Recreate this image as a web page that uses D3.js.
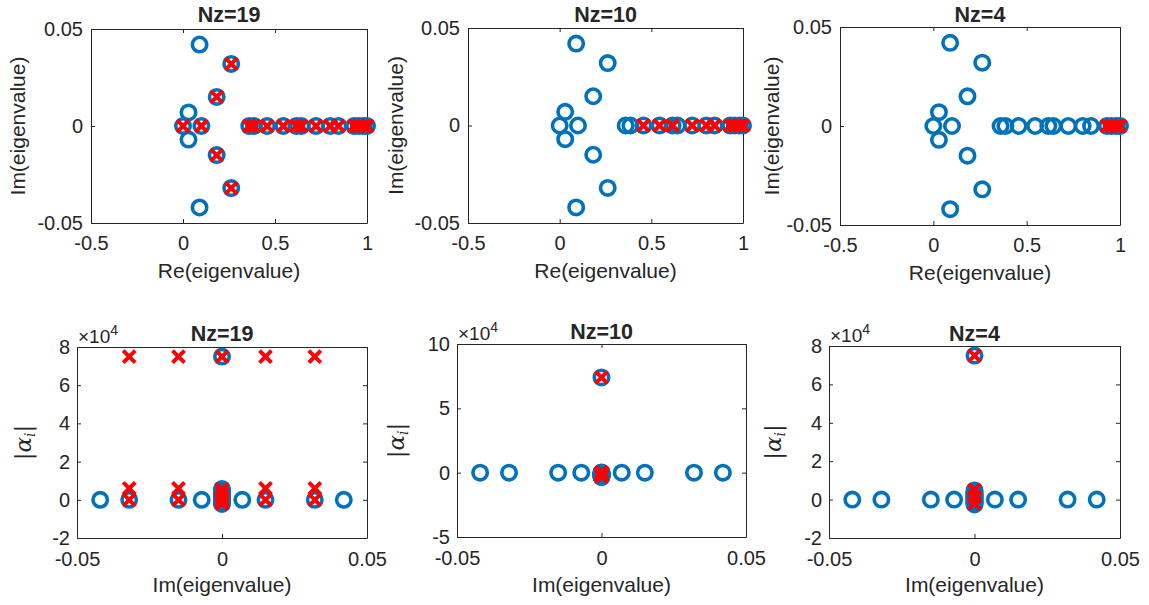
<!DOCTYPE html>
<html>
<head>
<meta charset="utf-8">
<script src="https://cdn.jsdelivr.net/npm/d3@7"></script>
<style>
  body { margin: 0; background: #fff; }
  svg { display: block; }
  text { font-family: "Liberation Sans", Arial, Helvetica, sans-serif; fill: #262626; }
</style>
</head>
<body>
<svg id="fig" width="1149" height="605"></svg>
<script>
// ---- Eigenvalues: complex pairs first, then the real ones ----
const eigRe = [0.09, 0.09, 0.262, 0.262, 0.183, 0.183, 0.03, 0.03,
               0, 0.1, 0.36, 0.386, 0.457, 0.545, 0.616, 0.643, 0.723, 0.80, 0.845, 0.93, 0.955, 0.98, 1.0];
const eigIm = [0.042, -0.042, 0.032, -0.032, 0.015, -0.015, 0.007, -0.007,
               0, 0, 0, 0, 0, 0, 0, 0, 0, 0, 0, 0, 0, 0, 0];

// |alpha_i| per eigenvalue (units of 1e4), one list per Nz
const alpha19 = [0, 0, 0, 0, 0, 0, 0, 0,
                 7.5, 0.57, 0.45, 0.35, 0.25, 0.15, 0.05, 0, -0.05, -0.1, -0.15, -0.22, 0.3, 0.1, 0.2];
const alpha10 = [0, 0, 0, 0, 0, 0, 0, 0,
                 7.4, 0.02, -0.02, -0.06, -0.1, -0.14, -0.18, -0.22, -0.26, -0.3, -0.34, 0, -0.1, -0.2, -0.3];
const alpha4  = [0, 0, 0, 0, 0, 0, 0, 0,
                 7.5, 0.48, 0.38, 0.28, 0.18, 0.08, 0, -0.05, -0.1, -0.15, -0.2, -0.25, 0.1, 0.2, 0.3];

// Retained poles (red crosses) in the complex plane
const keepRe19 = [0, 0.1, 0.183, 0.183, 0.262, 0.262,
                  0.36, 0.386, 0.457, 0.545, 0.616, 0.643, 0.723, 0.80, 0.845, 0.93, 0.955, 0.98, 1.0];
const keepIm19 = [0, 0, 0.015, -0.015, 0.032, -0.032,
                  0, 0, 0, 0, 0, 0, 0, 0, 0, 0, 0, 0, 0];
const keepRe10 = [0.457, 0.545, 0.616, 0.723, 0.80, 0.845, 0.93, 0.955, 0.98, 1.0];
const keepIm10 = [0, 0, 0, 0, 0, 0, 0, 0, 0, 0];
const keepRe4  = [0.93, 0.955, 0.98, 1.0];
const keepIm4  = [0, 0, 0, 0];

// Retained poles against |alpha_i| (units of 1e4)
const keepAIm19 = [-0.032, -0.015, 0, 0.015, 0.032,
                   -0.032, -0.015, 0.015, 0.032,
                   -0.032, -0.015, 0.015, 0.032,
                   0, 0, 0, 0, 0, 0];
const keepA19   = [7.5, 7.5, 7.5, 7.5, 7.5,
                   0.6, 0.6, 0.6, 0.6,
                   0, 0, 0, 0,
                   0.55, 0.35, 0.15, 0, -0.1, -0.2];
const keepAIm10 = [0, 0, 0, 0, 0, 0, 0, 0, 0, 0];
const keepA10   = [7.4, 0.03, 0, -0.03, -0.07, -0.1, -0.15, -0.2, -0.25, -0.3];
const keepAIm4  = [0, 0, 0, 0];
const keepA4    = [7.5, 0.5, 0.15, -0.2];

// Axis ranges and ticks
const reDomain = [-0.5, 1],   reTicks = [-0.5, 0, 0.5, 1];
const imDomain = [-0.05, 0.05], imTicks = [-0.05, 0, 0.05];
const aDomain8 = [-2, 8],    aTicks8 = [-2, 0, 2, 4, 6, 8];
const aDomain10 = [-5, 10],  aTicks10 = [-5, 0, 5, 10];

const titles = ["Nz=19", "Nz=10", "Nz=4"];

const BLUE = "#0072BD", RED = "#FF0000", INK = "#262626";
const svg = d3.select("#fig");

const fmt = d => String(d);

function panel(cfg) {
  const { box, xDomain, xTicks, yDomain, yTicks, circles, crosses, title, xLabel, yLabel, exponent, lay } = cfg;
  const x = d3.scaleLinear().domain(xDomain).range([box.L, box.R]);
  const y = d3.scaleLinear().domain(yDomain).range([box.B, box.T]);
  const g = svg.append("g");

  // axes with inward ticks on all four sides
  const tl = 4;
  const ax = [
    g.append("g").attr("transform", `translate(0,${box.B})`)
      .call(d3.axisBottom(x).tickValues(xTicks).tickFormat(fmt).tickSizeInner(-tl).tickSizeOuter(0).tickPadding(lay.xPad)),
    g.append("g").attr("transform", `translate(0,${box.T})`)
      .call(d3.axisTop(x).tickValues(xTicks).tickFormat("").tickSizeInner(-tl).tickSizeOuter(0)),
    g.append("g").attr("transform", `translate(${box.L},0)`)
      .call(d3.axisLeft(y).tickValues(yTicks).tickFormat(fmt).tickSizeInner(-tl).tickSizeOuter(0).tickPadding(lay.yPad)),
    g.append("g").attr("transform", `translate(${box.R},0)`)
      .call(d3.axisRight(y).tickValues(yTicks).tickFormat("").tickSizeInner(-tl).tickSizeOuter(0))
  ];
  ax.forEach(a => {
    a.selectAll("path.domain").attr("stroke", INK).attr("stroke-width", 1);
    a.selectAll(".tick line").attr("stroke", INK).attr("stroke-width", 1);
    a.selectAll(".tick text").attr("font-size", 20).attr("fill", INK)
      .style("font-family", '"Liberation Sans", Arial, Helvetica, sans-serif');
  });

  // markers: blue circles for all eigenvalues, red crosses for retained ones
  g.append("g").selectAll("circle").data(d3.range(circles.x.length)).join("circle")
    .attr("cx", i => x(circles.x[i])).attr("cy", i => y(circles.y[i])).attr("r", 7.2)
    .attr("fill", "none").attr("stroke", BLUE).attr("stroke-width", 3.6);
  const s = 6;
  g.append("g").selectAll("path").data(d3.range(crosses.x.length)).join("path")
    .attr("transform", i => `translate(${x(crosses.x[i])},${y(crosses.y[i])})`)
    .attr("d", `M${-s},${-s}L${s},${s}M${-s},${s}L${s},${-s}`)
    .attr("fill", "none").attr("stroke", RED).attr("stroke-width", 4);

  const cx = (box.L + box.R) / 2, cy = (box.T + box.B) / 2;
  g.append("text").attr("x", cx).attr("y", lay.titleY).attr("text-anchor", "middle")
    .attr("font-size", 21.5).attr("font-weight", "bold").attr("fill", "#000").text(title);
  g.append("text").attr("x", cx).attr("y", lay.xLabelY).attr("text-anchor", "middle")
    .attr("font-size", 21).text(xLabel);

  if (yLabel === "alpha") {
    const t = g.append("text").attr("transform", `translate(${lay.yLabelX},${cy}) rotate(-90)`)
      .attr("text-anchor", "middle").attr("font-size", 23)
      .style("font-family", '"DejaVu Serif", "Liberation Serif", serif');
    t.append("tspan").text("|");
    t.append("tspan").attr("font-style", "italic").text("\u03B1");
    t.append("tspan").attr("font-style", "italic").attr("font-size", 14).attr("dy", 4).text("i");
    t.append("tspan").attr("dy", -4).text("|");
  } else {
    g.append("text").attr("transform", `translate(${lay.yLabelX},${cy}) rotate(-90)`)
      .attr("text-anchor", "middle").attr("font-size", 21).text(yLabel);
  }

  if (exponent) {
    const t = g.append("text").attr("x", box.L + 1).attr("y", box.T - 4)
      .attr("font-size", 19).attr("fill", "#404040");
    t.append("tspan").text("\u00D710");
    t.append("tspan").attr("font-size", 14).attr("dy", -8).text("4");
  }
}

// top row: complex plane
const topBoxes = [
  { L: 91, R: 367, T: 29, B: 223 },
  { L: 468, R: 743, T: 28, B: 223 },
  { L: 840, R: 1120, T: 27, B: 225 }
];
const topYLabelX = [25, 403, 779];
const keepRe = [keepRe19, keepRe10, keepRe4];
const keepIm = [keepIm19, keepIm10, keepIm4];
topBoxes.forEach((box, k) => panel({
  box, xDomain: reDomain, xTicks: reTicks, yDomain: imDomain, yTicks: imTicks,
  circles: { x: eigRe, y: eigIm }, crosses: { x: keepRe[k], y: keepIm[k] },
  title: titles[k], xLabel: "Re(eigenvalue)", yLabel: "Im(eigenvalue)", exponent: false,
  lay: { xPad: 13, yPad: 8, titleY: 22, xLabelY: box.B + 55, yLabelX: topYLabelX[k] }
}));

// bottom row: |alpha_i| against Im(eigenvalue)
const botBoxes = [
  { L: 77, R: 367, T: 347, B: 538 },
  { L: 457, R: 746, T: 344, B: 537 },
  { L: 829, R: 1120, T: 346, B: 538 }
];
const botYLabelX = [31, 404, 781];
const alphas = [alpha19, alpha10, alpha4];
const keepAIm = [keepAIm19, keepAIm10, keepAIm4];
const keepA = [keepA19, keepA10, keepA4];
const aDomains = [aDomain8, aDomain10, aDomain8];
const aTicks = [aTicks8, aTicks10, aTicks8];
const botTitleY = [341, 339, 341];
botBoxes.forEach((box, k) => panel({
  box, xDomain: imDomain, xTicks: imTicks, yDomain: aDomains[k], yTicks: aTicks[k],
  circles: { x: eigIm, y: alphas[k] }, crosses: { x: keepAIm[k], y: keepA[k] },
  title: titles[k], xLabel: "Im(eigenvalue)", yLabel: "alpha", exponent: true,
  lay: { xPad: 14, yPad: 7, titleY: botTitleY[k], xLabelY: 592, yLabelX: botYLabelX[k] }
}));
</script>
</body>
</html>
